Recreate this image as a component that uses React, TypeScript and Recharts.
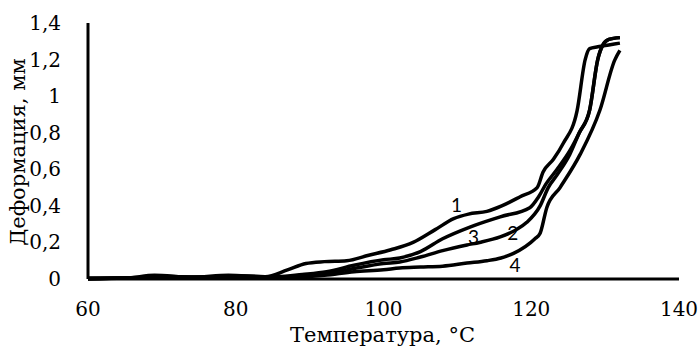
import { LineChart, Line, XAxis, YAxis, ReferenceDot } from "recharts";

// Temperature (°C) and deformation (mm) for each specimen
const T1 = [60, 65, 69, 74, 79, 84, 87, 89.5, 92, 95, 98, 101, 104, 107, 109.5, 111.5, 114, 116, 118.5, 120.8, 121.6, 123, 124.3, 126.2, 127.3, 127.9, 129, 130.5, 132];
const D1 = [0.005, 0.005, 0.02, 0.01, 0.02, 0.012, 0.05, 0.085, 0.095, 0.1, 0.13, 0.16, 0.2, 0.27, 0.33, 0.355, 0.37, 0.4, 0.45, 0.5, 0.585, 0.655, 0.74, 0.92, 1.2, 1.26, 1.27, 1.28, 1.29];

const T2 = [60, 70, 80, 85, 90, 95, 100, 102.2, 105, 108, 111.3, 113, 115.8, 118, 119.4, 121.2, 122.3, 123.5, 125.2, 126.5, 127.9, 129, 129.7, 130.5, 132];
const D2 = [0, 0.01, 0.012, 0.01, 0.02, 0.05, 0.085, 0.093, 0.12, 0.155, 0.186, 0.2, 0.23, 0.27, 0.31, 0.4, 0.5, 0.57, 0.68, 0.8, 0.924, 1.2, 1.28, 1.31, 1.32];

const T3 = [60, 66, 70, 76, 80, 85, 89, 92.3, 96, 100, 102.2, 105, 108, 111.7, 115.8, 119.8, 121, 122, 123.5, 125.2, 126.5, 127.9, 129, 129.7, 130.5, 132];
const D3 = [0.003, 0.005, 0.015, 0.008, 0.018, 0.012, 0.025, 0.04, 0.075, 0.105, 0.115, 0.15, 0.22, 0.284, 0.34, 0.39, 0.45, 0.52, 0.6, 0.7, 0.8, 0.924, 1.2, 1.28, 1.31, 1.32];

const T4 = [60, 70, 80, 88, 92, 96, 100, 102.2, 105, 108, 111.3, 114, 115.9, 117.6, 120.5, 121.2, 122.1, 123.9, 126.6, 129.3, 131.3, 132];
const D4 = [0.002, 0.008, 0.01, 0.01, 0.02, 0.04, 0.05, 0.06, 0.065, 0.07, 0.087, 0.1, 0.115, 0.14, 0.22, 0.25, 0.39, 0.5, 0.68, 0.924, 1.197, 1.25];

const X_TICKS = [60, 80, 100, 120, 140];
const Y_TICKS = [0, 0.2, 0.4, 0.6, 0.8, 1, 1.2, 1.4];

// curve numbers placed next to the lines: [label, temperature, deformation]
const CURVE_LABELS: Array<[string, number, number]> = [
  ["1", 109.9, 0.405],
  ["3", 112.2, 0.23],
  ["2", 117.5, 0.25],
  ["4", 117.8, 0.077],
];

const toPoints = (t: number[], d: number[]) => t.map((x, i) => ({ t: x, d: d[i] }));
const SERIES = [toPoints(T1, D1), toPoints(T2, D2), toPoints(T3, D3), toPoints(T4, D4)];

const fmt = (v: number) => String(v).replace(".", ",");
// Liberation Serif doesn't resolve here, DejaVu Serif does
const tickText = { fontFamily: "DejaVu Serif", fontSize: 20, fill: "#000" };
const titleText = { fontFamily: "DejaVu Serif", fontSize: 21, fill: "#000" };
const sansText = { fontFamily: "Lato, sans-serif", fontSize: 19, fill: "#000" };

const XTick = ({ x, y, payload }: any) => (
  <text x={x} y={y + 21} dy="0.71em" textAnchor="middle" style={tickText}>
    {payload.value}
  </text>
);

const YTick = ({ x, y, payload }: any) => (
  <text x={x - 25} y={y} dy="0.35em" textAnchor="end" style={tickText}>
    {fmt(payload.value)}
  </text>
);

const XTitle = ({ viewBox }: any) => (
  <text x={viewBox.x + viewBox.width / 2 - 1} y={342} textAnchor="middle" style={titleText}>
    Температура, °С
  </text>
);

const YTitle = ({ viewBox }: any) => (
  <text
    x={0}
    y={0}
    transform={`translate(25, ${viewBox.y + viewBox.height / 2 + 1}) rotate(-90)`}
    textAnchor="middle"
    style={titleText}
  >
    Деформация, мм
  </text>
);

const CurveLabel = (txt: string) => ({ viewBox }: any) => (
  <text x={viewBox.x} y={viewBox.y} dy="0.35em" textAnchor="middle" style={sansText}>
    {txt}
  </text>
);

export default function App() {
  return (
    <div style={{ position: "absolute", left: 0, top: 0, width: 700, height: 347, background: "#fff" }}>
      <LineChart width={700} height={347} margin={{ top: 23, right: 21, bottom: 0, left: 0 }}>
        <XAxis
          dataKey="t"
          type="number"
          domain={[60, 140]}
          ticks={X_TICKS}
          allowDuplicatedCategory={false}
          height={68}
          tickSize={0}
          tick={<XTick />}
          axisLine={{ stroke: "#000", strokeWidth: 3 }}
          tickLine={false}
          label={<XTitle />}
        />
        <YAxis
          dataKey="d"
          type="number"
          domain={[0, 1.4]}
          ticks={Y_TICKS}
          width={88}
          tickSize={0}
          tick={<YTick />}
          axisLine={{ stroke: "#000", strokeWidth: 3 }}
          tickLine={false}
          label={<YTitle />}
        />
        {SERIES.map((pts, i) => (
          <Line
            key={i}
            data={pts}
            dataKey="d"
            type="monotone"
            stroke="#000"
            strokeWidth={3.5}
            dot={false}
            activeDot={false}
            isAnimationActive={false}
          />
        ))}
        {CURVE_LABELS.map(([txt, x, y]) => (
          <ReferenceDot key={txt} x={x} y={y} r={0} stroke="none" fill="none" label={CurveLabel(txt)} />
        ))}
      </LineChart>
    </div>
  );
}
